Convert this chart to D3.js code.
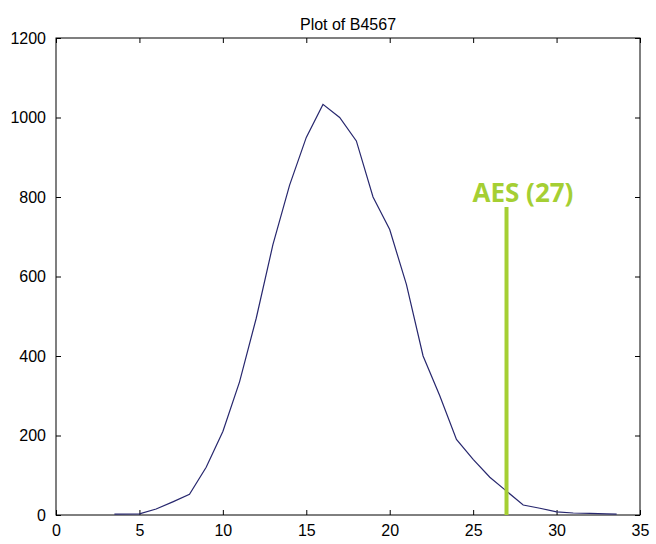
<!DOCTYPE html>
<html>
<head>
<meta charset="utf-8">
<script src="https://cdn.jsdelivr.net/npm/d3@7"></script>
<style>
  body { margin: 0; background: #fff; }
  svg { display: block; }
  .tick-label { font-family: "Liberation Sans", Arial, sans-serif; font-size: 16px; fill: #000; }
</style>
</head>
<body>
<svg></svg>
<script>
const width = 656;
const height = 544;
const margin = { top: 38, right: 16, bottom: 29, left: 56 };

// curve values
const xValues = [3.5, 5, 6, 7, 8, 9, 10, 11, 12, 13, 14, 15, 16, 17, 18, 19, 20, 21, 22, 23, 24, 25, 26, 27, 28, 29, 30, 31, 32, 33, 33.6];
const yValues = [2, 3, 15, 33, 52, 120, 210, 335, 495, 680, 830, 950, 1033, 1000, 941, 800, 718, 580, 400, 300, 190, 140, 95, 60, 25, 17, 8, 5, 4, 3, 2];

const xTicks = [0, 5, 10, 15, 20, 25, 30, 35];
const yTicks = [0, 200, 400, 600, 800, 1000, 1200];

const title = "Plot of B4567";
const aesValue = 27;
const aesTop = 775;
const aesLabel = "AES (27)";

const svg = d3.select("svg").attr("width", width).attr("height", height);

const xScale = d3.scaleLinear().domain([0, 35]).range([margin.left, width - margin.right]);
const yScale = d3.scaleLinear().domain([0, 1200]).range([height - margin.bottom, margin.top]);

const drawAxes = () => {
  // inward ticks on all four sides, matlab style
  svg.append("g")
    .attr("transform", `translate(0, ${yScale(0)})`)
    .call(d3.axisBottom(xScale).tickValues(xTicks).tickSize(-5).tickPadding(10).tickFormat(d3.format("d")))
    .call((g) => g.select(".domain").remove());
  svg.append("g")
    .attr("transform", `translate(0, ${yScale(1200)})`)
    .call(d3.axisTop(xScale).tickValues(xTicks).tickSize(-5).tickFormat(""))
    .call((g) => g.select(".domain").remove());
  svg.append("g")
    .attr("transform", `translate(${xScale(0)}, 0)`)
    .call(d3.axisLeft(yScale).tickValues(yTicks).tickSize(-5).tickPadding(10).tickFormat(d3.format("d")))
    .call((g) => g.select(".domain").remove());
  svg.append("g")
    .attr("transform", `translate(${xScale(35)}, 0)`)
    .call(d3.axisRight(yScale).tickValues(yTicks).tickSize(-5).tickFormat(""))
    .call((g) => g.select(".domain").remove());

  svg.selectAll(".tick line").attr("stroke", "#000");
  svg.selectAll(".tick text").attr("class", "tick-label");

  svg.append("rect")
    .attr("x", xScale(0))
    .attr("y", yScale(1200))
    .attr("width", xScale(35) - xScale(0))
    .attr("height", yScale(0) - yScale(1200))
    .attr("fill", "none")
    .attr("stroke", "#000")
    .attr("stroke-width", 1);
};

const drawCurve = () => {
  const points = xValues.map((x, i) => [x, yValues[i]]);
  const line = d3.line().x((d) => xScale(d[0])).y((d) => yScale(d[1]));
  svg.append("path")
    .datum(points)
    .attr("d", line)
    .attr("fill", "none")
    .attr("stroke", "#27276e")
    .attr("stroke-width", 1.2);
};

const drawAes = () => {
  svg.append("line")
    .attr("x1", xScale(aesValue))
    .attr("x2", xScale(aesValue))
    .attr("y1", yScale(0))
    .attr("y2", yScale(aesTop))
    .attr("stroke", "#a5cf33")
    .attr("stroke-width", 4);

  svg.append("text")
    .attr("x", xScale(aesValue) - 34)
    .attr("y", yScale(aesTop) - 5)
    .attr("font-family", "'Open Sans', sans-serif")
    .attr("font-weight", "bold")
    .attr("font-size", 26)
    .attr("fill", "#a5cf33")
    .text(aesLabel);
};

svg.append("text")
  .attr("x", (xScale(0) + xScale(35)) / 2)
  .attr("y", 30)
  .attr("text-anchor", "middle")
  .attr("font-family", "'Liberation Sans', Arial, sans-serif")
  .attr("font-size", 16)
  .text(title);

drawAxes();
drawCurve();
drawAes();
</script>
</body>
</html>
